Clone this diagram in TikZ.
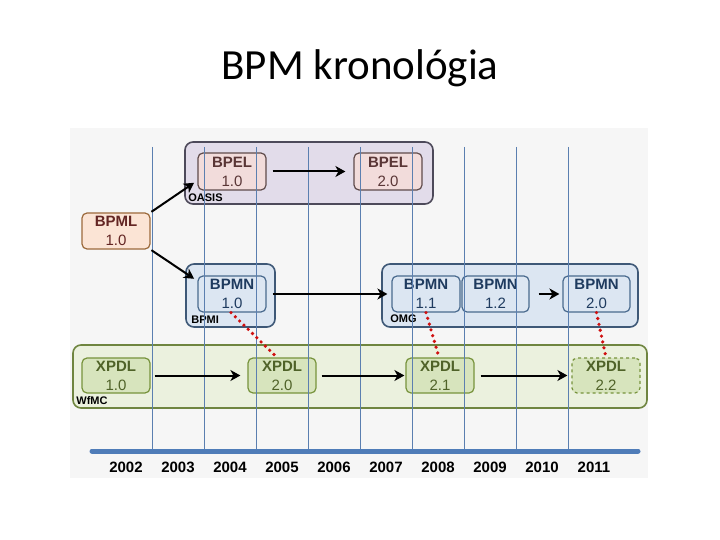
\documentclass[tikz,border=0pt]{standalone}
\usepackage{fontspec}
\setmainfont{Liberation Sans}
\newfontfamily\titlefont{Carlito}
\usepackage{tikz}
\usetikzlibrary{arrows.meta,calc}
\usepackage{xcolor}
\definecolor{gridblue}{HTML}{5B7FB0}
\definecolor{barblue}{HTML}{4F7CB8}
\definecolor{oasisfill}{HTML}{E2DCEA}
\definecolor{oasisdraw}{HTML}{4D4A5A}
\definecolor{bpelfill}{HTML}{F2DCDB}
\definecolor{bpeldraw}{HTML}{5F4B4B}
\definecolor{bpeltext}{HTML}{5A3636}
\definecolor{bpmlfill}{HTML}{FBE4D5}
\definecolor{bpmldraw}{HTML}{9C6A3C}
\definecolor{bpmltext}{HTML}{632523}
\definecolor{omgfill}{HTML}{DCE6F2}
\definecolor{omgdraw}{HTML}{3E5877}
\definecolor{bpmndraw}{HTML}{4A6A8E}
\definecolor{bpmntext}{HTML}{1F3B5F}
\definecolor{wfmcfill}{HTML}{EBF1DE}
\definecolor{wfmcdraw}{HTML}{6F8540}
\definecolor{xpdlfill}{HTML}{D7E4BD}
\definecolor{xpdldraw}{HTML}{77933C}
\definecolor{xpdltext}{HTML}{4F6228}
\definecolor{dotred}{HTML}{D01010}
\newcommand{\specname}[2]{\textbf{#1}\\#2}

\begin{document}
\begin{tikzpicture}[x=1pt,y=-1pt,
  group/.style={draw,rounded corners=8pt,line width=1.6pt,inner sep=0pt},
  spec/.style={draw,rounded corners=5pt,line width=1.2pt,minimum width=68pt,minimum height=36pt,
    align=center,inner sep=0pt,font=\fontsize{15}{19}\selectfont},
  orglabel/.style={anchor=south west,inner sep=0pt,font=\fontsize{11}{11}\selectfont\bfseries},
  flow/.style={line width=2pt,-{Stealth[length=10pt,width=11pt,inset=3pt]},shorten <=5pt,shorten >=4pt},
  relate/.style={dotred,line width=3.6pt,line cap=round,dash pattern=on 0pt off 6pt}]
  \useasboundingbox (0,0) rectangle (720,540);
  \fill[gray!7] (70,128) rectangle (648,478);
  \node[font=\titlefont\fontsize{43}{50}\selectfont] (title) at (360,68) {BPM kronológia};

  \node[group,fill=oasisfill,draw=oasisdraw,minimum width=248pt,minimum height=62pt] (oasis) at (309,173) {};
  \node[group,fill=omgfill,draw=omgdraw,minimum width=89pt,minimum height=63pt] (bpmi) at (230.5,295.5) {};
  \node[group,fill=omgfill,draw=omgdraw,minimum width=256pt,minimum height=63pt] (omg) at (510,295.5) {};
  \node[group,fill=wfmcfill,draw=wfmcdraw,minimum width=574pt,minimum height=63pt] (wfmc) at (360,376.5) {};
  \node[orglabel] at ([xshift=4pt,yshift=3pt]oasis.south west) {OASIS};
  \node[orglabel] at ([xshift=6pt,yshift=4pt]bpmi.south west) {BPMI};
  \node[orglabel] at ([xshift=9pt,yshift=5pt]omg.south west) {OMG};
  \node[orglabel] at ([xshift=4pt,yshift=4pt]wfmc.south west) {WfMC};

  \node[spec,fill=bpmlfill,draw=bpmldraw,text=bpmltext] (bpml) at (116,231) {\specname{BPML}{1.0}};
  \node[spec,fill=bpelfill,draw=bpeldraw,text=bpeltext,minimum height=37pt] (bpel10) at (232,171.5) {\specname{BPEL}{1.0}};
  \node[spec,fill=bpelfill,draw=bpeldraw,text=bpeltext,minimum height=37pt] (bpel20) at (388,171.5) {\specname{BPEL}{2.0}};
  \node[spec,fill=omgfill,draw=bpmndraw,text=bpmntext] (bpmn10) at (232,294) {\specname{BPMN}{1.0}};
  \node[spec,fill=omgfill,draw=bpmndraw,text=bpmntext] (bpmn11) at (426,294) {\specname{BPMN}{1.1}};
  \node[spec,fill=omgfill,draw=bpmndraw,text=bpmntext,minimum width=67pt] (bpmn12) at (495.5,294) {\specname{BPMN}{1.2}};
  \node[spec,fill=omgfill,draw=bpmndraw,text=bpmntext,minimum width=67pt] (bpmn20) at (596.5,294) {\specname{BPMN}{2.0}};
  \node[spec,fill=xpdlfill,draw=xpdldraw,text=xpdltext,minimum height=35pt] (xpdl10) at (116,375.5) {\specname{XPDL}{1.0}};
  \node[spec,fill=xpdlfill,draw=xpdldraw,text=xpdltext,minimum height=35pt] (xpdl20) at (282,375.5) {\specname{XPDL}{2.0}};
  \node[spec,fill=xpdlfill,draw=xpdldraw,text=xpdltext,minimum height=35pt] (xpdl21) at (440,375.5) {\specname{XPDL}{2.1}};
  \node[spec,fill=xpdlfill,draw=xpdldraw,text=xpdltext,minimum height=35pt,dashed] (xpdl22) at (606,375.5) {\specname{XPDL}{2.2}};

  \foreach \i in {0,...,8}
    \draw[gridblue,line width=0.8pt] (152+52*\i,147) -- (152+52*\i,451);
  \draw[barblue,line width=5pt,line cap=round] (92,451) -- (638,451);
  \foreach \yr [count=\i from 0] in {2002,2003,2004,2005,2006,2007,2008,2009,2010,2011}
    \node[font=\fontsize{15}{15}\selectfont\bfseries] (y\yr) at (126+52*\i,467) {\yr};

  \draw[flow,shorten <=1pt] (bpml.north east) -- ([yshift=-9pt]bpel10.west);
  \draw[flow,shorten <=1pt] (bpml.south east) -- ([yshift=13pt]bpmn10.west);
  \draw[flow,shorten <=6pt,shorten >=8pt] (bpel10) -- (bpel20);
  \draw[flow,shorten <=6pt] (bpmn10) -- (bpmn11);
  \draw[flow,shorten <=9pt,shorten >=3pt] (bpmn12) -- (bpmn20);
  \draw[flow,shorten <=4pt,shorten >=7pt] (xpdl10) -- (xpdl20);
  \draw[flow,shorten >=1pt] (xpdl20) -- (xpdl21);
  \draw[flow,shorten <=6pt] (xpdl21) -- (xpdl22);

  \draw[relate] ([xshift=-1pt]bpmn10.south) -- ([xshift=-5pt]xpdl20.north);
  \draw[relate] (bpmn11.south) -- ([xshift=-1pt]xpdl21.north);
  \draw[relate] (bpmn20.south) -- (xpdl22.north);
\end{tikzpicture}
\end{document}
